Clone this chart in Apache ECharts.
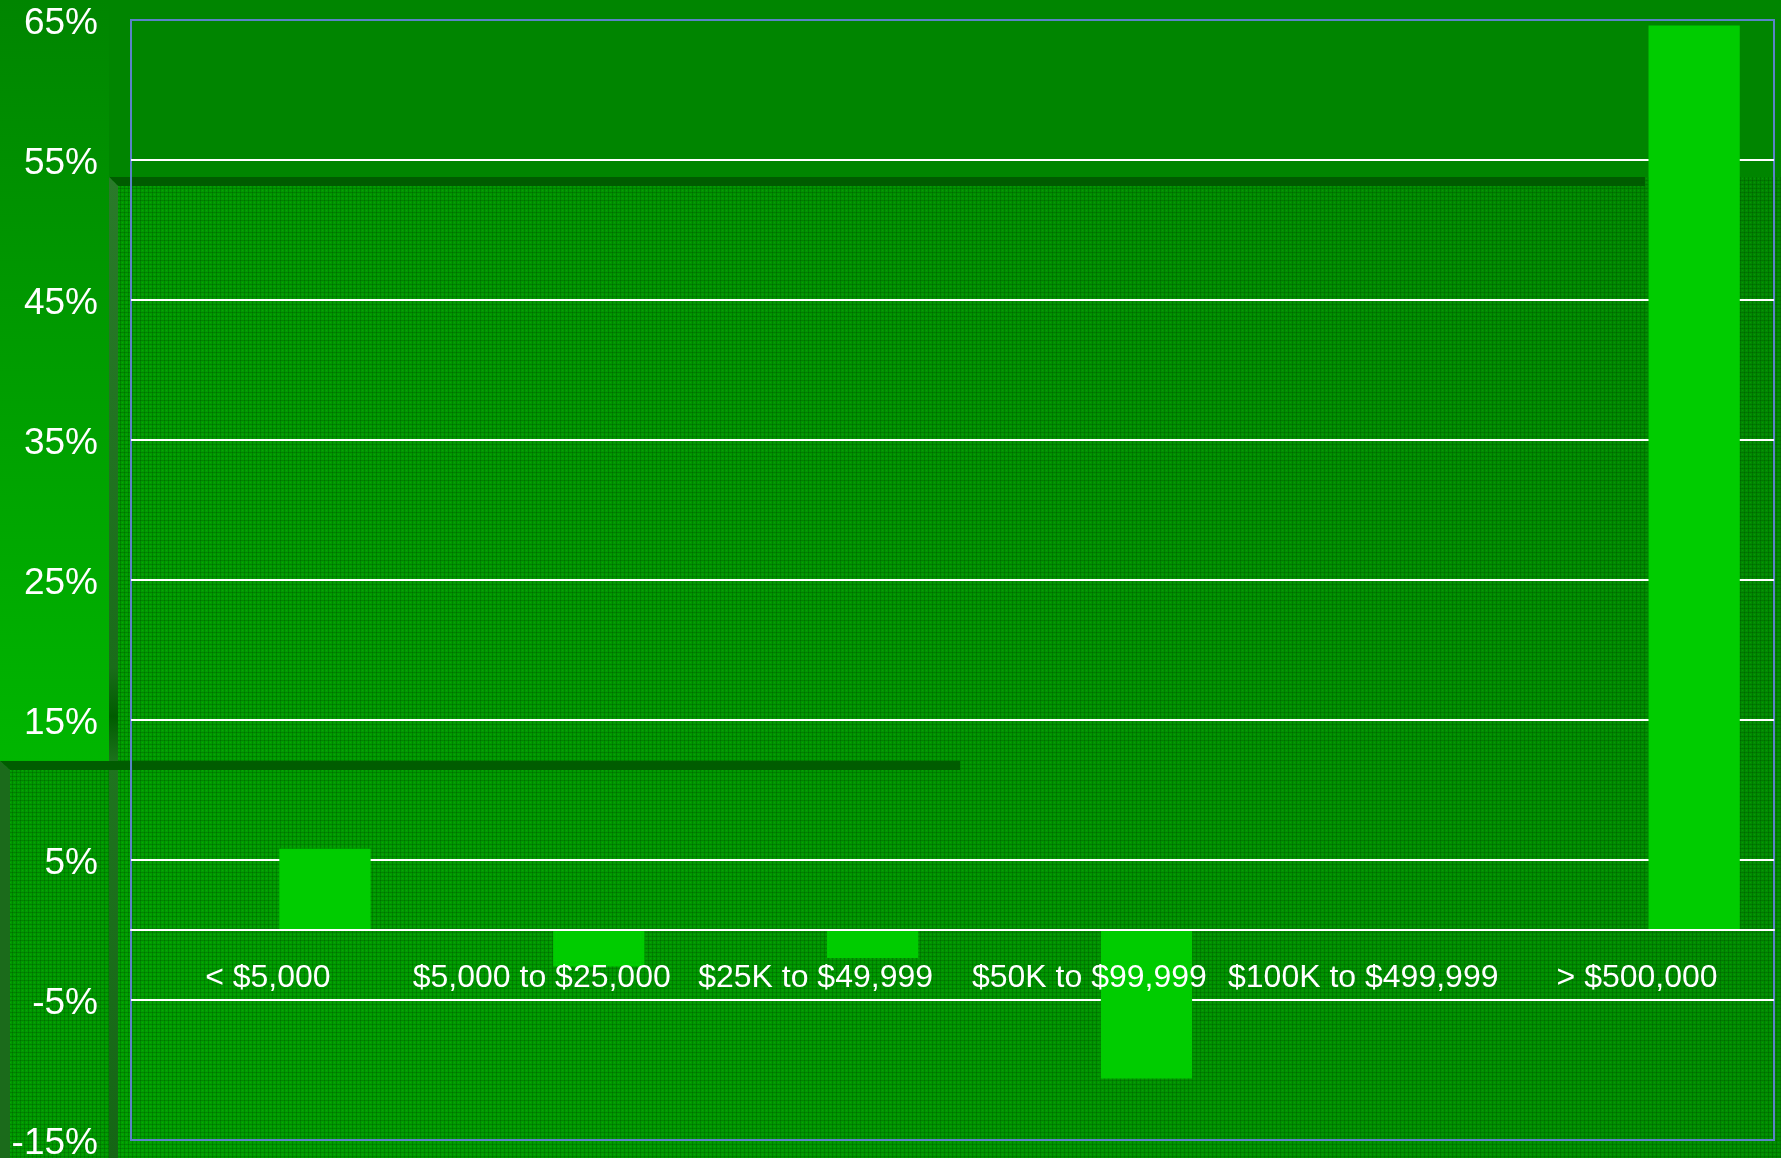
<!DOCTYPE html>
<html>
<head>
<meta charset="utf-8">
<title>Change by account size</title>
<script src="https://cdn.jsdelivr.net/npm/echarts@6/dist/echarts.min.js"></script>
<style>
  html, body { margin: 0; padding: 0; background: #008500; }
  #chart { width: 1781px; height: 1158px; }
</style>
</head>
<body>
<div id="chart"></div>
<script>
// chart data
const categories = ['< $5,000', '$5,000 to $25,000', '$25K to $49,999', '$50K to $99,999', '$100K to $499,999', '> $500,000'];
const changeValues = [5.8, -2.6, -2.0, -10.6, 0, 64.6];
// first series of the original sheet is empty, it only takes the left slot
const emptyValues = [null, null, null, null, null, null];
const yTicks = [-15, -5, 5, 15, 25, 35, 45, 55, 65];

const W = 1781, H = 1158;

// little grid texture like the slide background
const tex = document.createElement('canvas');
tex.width = 4;
tex.height = 4;
const tctx = tex.getContext('2d');
tctx.fillStyle = 'rgba(0, 60, 0, 0.25)';
tctx.fillRect(0, 0, 4, 1);
tctx.fillRect(0, 0, 1, 4);
tctx.fillStyle = 'rgba(120, 255, 120, 0.07)';
tctx.fillRect(2, 2, 1, 1);

const darkEdge = '#005c00';
const bevel = '#1f741f';

const chart = echarts.init(document.getElementById('chart'));

const option = {
  backgroundColor: '#008500',
  animation: false,
  graphic: [
    // textured panel behind the plot
    {
      type: 'rect', z: -10,
      shape: { x: 109, y: 177, width: W - 109, height: H - 177 },
      style: {
        fill: new echarts.graphic.LinearGradient(1, 0, 0, 1, [
          { offset: 0, color: '#008800' },
          { offset: 1, color: '#00a000' },
        ]),
      },
    },
    {
      type: 'rect', z: -9,
      shape: { x: 109, y: 177, width: W - 109, height: H - 177 },
      style: { fill: { image: tex, repeat: 'repeat' } },
    },
    // bright left panel behind the y labels
    {
      type: 'rect', z: -8,
      shape: { x: 0, y: 0, width: 109, height: 761 },
      style: {
        fill: new echarts.graphic.LinearGradient(0, 0, 0, 1, [
          { offset: 0, color: '#008500' },
          { offset: 1, color: '#00b600' },
        ]),
      },
    },
    // lower left textured panel
    {
      type: 'rect', z: -8,
      shape: { x: 0, y: 761, width: 109, height: H - 761 },
      style: { fill: '#009a00' },
    },
    {
      type: 'rect', z: -7,
      shape: { x: 0, y: 761, width: 109, height: H - 761 },
      style: { fill: { image: tex, repeat: 'repeat' } },
    },
    // upper frame edges
    {
      type: 'polygon', z: -6,
      shape: { points: [[109, 177], [1645, 177], [1645, 186], [118, 186]] },
      style: { fill: darkEdge },
    },
    {
      type: 'polygon', z: -6,
      shape: { points: [[109, 177], [118, 186], [118, H], [109, H]] },
      style: {
        fill: new echarts.graphic.LinearGradient(0, 0, 0, 1, [
          { offset: 0, color: '#2a7a2a' },
          { offset: 0.5, color: '#1a6c1a' },
          { offset: 0.55, color: darkEdge },
          { offset: 0.6, color: bevel },
          { offset: 1, color: '#156515' },
        ]),
      },
    },
    // lower frame edges
    {
      type: 'polygon', z: -5,
      shape: { points: [[0, 761], [960, 761], [960, 770], [10, 770]] },
      style: { fill: darkEdge },
    },
    {
      type: 'polygon', z: -5,
      shape: { points: [[0, 761], [10, 770], [10, H], [0, H]] },
      style: { fill: '#1b6b1b' },
    },
  ],
  grid: {
    left: 131,
    right: 7,
    top: 20,
    bottom: 18,
    containLabel: false,
    outerBoundsMode: 'none',
    show: true,
    backgroundColor: 'transparent',
    borderColor: '#5b82c8',
    borderWidth: 2,
  },
  xAxis: {
    type: 'category',
    data: categories,
    z: 10,
    axisLine: { onZero: true, lineStyle: { color: '#ffffff', width: 2 } },
    axisTick: { show: false },
    axisLabel: {
      interval: 0,
      hideOverlap: false,
      // labels sit just under the zero line, not at the grid bottom
      margin: -178,
      color: '#ffffff',
      fontSize: 32,
      fontFamily: '"Liberation Sans", Arial, sans-serif',
    },
    splitLine: { show: false },
  },
  yAxis: {
    type: 'value',
    min: yTicks[0],
    max: yTicks[yTicks.length - 1],
    interval: 10,
    axisLine: { show: false },
    axisTick: { show: false },
    axisLabel: {
      margin: 33,
      formatter: (v) => '{p|' + v + '%}',
      rich: {
        p: {
          padding: [7, 0, 0, 0],
          color: '#ffffff',
          fontSize: 37,
          fontFamily: '"Liberation Sans", Arial, sans-serif',
        },
      },
    },
    splitLine: {
      show: true,
      lineStyle: {
        color: yTicks.map((t, i) => (i === 0 || i === yTicks.length - 1) ? '#5b82c8' : '#ffffff'),
        width: 2,
      },
    },
  },
  series: [
    {
      name: 'Series 1',
      type: 'bar',
      data: emptyValues,
      barGap: '25%',
      barCategoryGap: '25%',
      itemStyle: { color: '#00cc00' },
    },
    {
      name: 'Change',
      type: 'bar',
      data: changeValues,
      barGap: '25%',
      barCategoryGap: '25%',
      itemStyle: { color: '#00cc00' },
    },
  ],
};

chart.setOption(option);
</script>
</body>
</html>
